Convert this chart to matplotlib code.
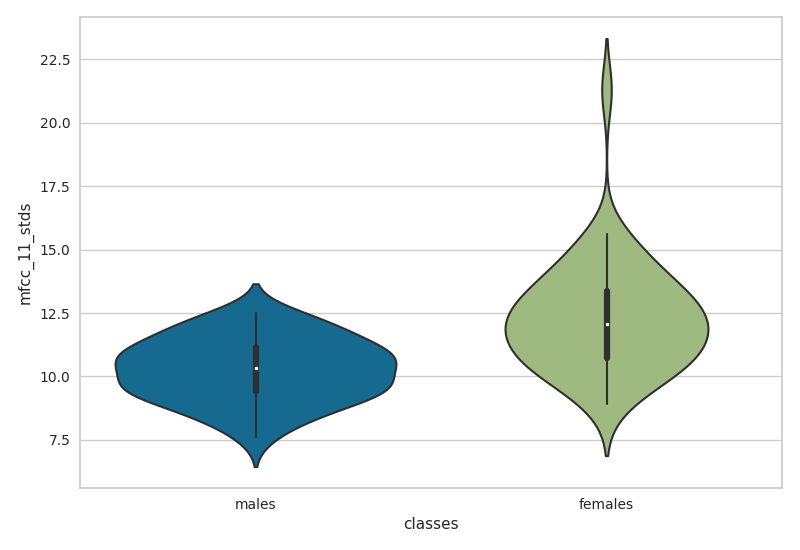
import numpy as np
import matplotlib
matplotlib.use("Agg")
import matplotlib.pyplot as plt
import seaborn as sns

# data (hand-estimated samples per class)
classes = ["males", "females"]
males = [7.6, 8.1, 8.3, 8.5, 8.7, 8.8, 8.9,
         9.1, 9.2, 9.3, 9.4, 9.45, 9.5,
         9.55, 9.6, 9.65, 9.7, 9.8, 9.9, 10.1,
         10.2, 10.3, 10.4, 10.5,
         10.6, 10.65, 10.7, 10.75, 10.8, 10.85, 10.9, 11.0, 11.15,
         11.25, 11.35, 11.45, 11.55, 11.7, 11.8, 11.95, 12.1, 12.25, 12.4, 12.5]
females = [8.9, 9.3, 9.6, 9.9, 10.1, 10.25, 10.4, 10.5, 10.55, 10.6,
           10.65, 10.75,
           10.9, 11.1, 11.3, 11.45, 11.55, 11.65, 11.75, 11.85, 11.95, 12.0,
           12.1,
           12.2, 12.3, 12.45, 12.55, 12.65, 12.8, 12.9, 13.05, 13.2, 13.35,
           13.45, 13.55, 13.7, 13.9, 14.1, 14.4, 14.7, 15.0, 15.3, 15.6, 21.3]
colors = ["#166a8f", "#9fba80"]
gray = "#2f2f2f"


def kde(obs, cut=2, gridsize=100):
    obs = np.asarray(obs, dtype=float)
    n = len(obs)
    bw = obs.std(ddof=1) * n ** (-1 / 5)  # scott
    grid = np.linspace(obs.min() - cut * bw, obs.max() + cut * bw, gridsize)
    z = (grid[:, None] - obs[None, :]) / bw
    dens = np.exp(-0.5 * z ** 2).sum(axis=1) / (n * bw * np.sqrt(2 * np.pi))
    return grid, dens


sns.set_theme(style="whitegrid",
              rc={"xtick.labelsize": 10, "ytick.labelsize": 10,
                  "axes.labelsize": 11,
                  "xtick.major.size": 3.5, "ytick.major.size": 3.5,
                  "xtick.major.pad": 3.5, "ytick.major.pad": 3.5})
fig, ax = plt.subplots(figsize=(8, 5.5), dpi=100)
fig.subplots_adjust(left=0.1, right=0.9775, top=0.969, bottom=0.1127)

groups = [males, females]
curves = [kde(g) for g in groups]
dmax = max(d.max() for _, d in curves)

for i, (obs, (grid, dens), c) in enumerate(zip(groups, curves, colors)):
    hw = dens / dmax * 0.4
    ax.fill_betweenx(grid, i - hw, i + hw, facecolor=c, edgecolor=gray,
                     linewidth=1.5, zorder=1)
    obs = np.asarray(obs)
    q25, q50, q75 = np.percentile(obs, [25, 50, 75])
    iqr = q75 - q25
    lo = obs[obs >= q25 - 1.5 * iqr].min()
    hi = obs[obs <= q75 + 1.5 * iqr].max()
    ax.plot([i, i], [lo, hi], color=gray, linewidth=1.5, zorder=2)
    ax.plot([i, i], [q25, q75], color=gray, linewidth=4.5,
            solid_capstyle="round", zorder=2)
    ax.scatter(i, q50, s=9, color="white", edgecolor=gray, linewidth=0.5,
               zorder=3)

ax.set_xlim(-0.5, 1.5)
ax.set_xticks([0, 1])
ax.set_xticklabels(classes)
ax.xaxis.grid(False)
ax.set_xlabel("classes")
ax.set_ylabel("mfcc_11_stds")

fig.savefig("out.png", dpi=100)
